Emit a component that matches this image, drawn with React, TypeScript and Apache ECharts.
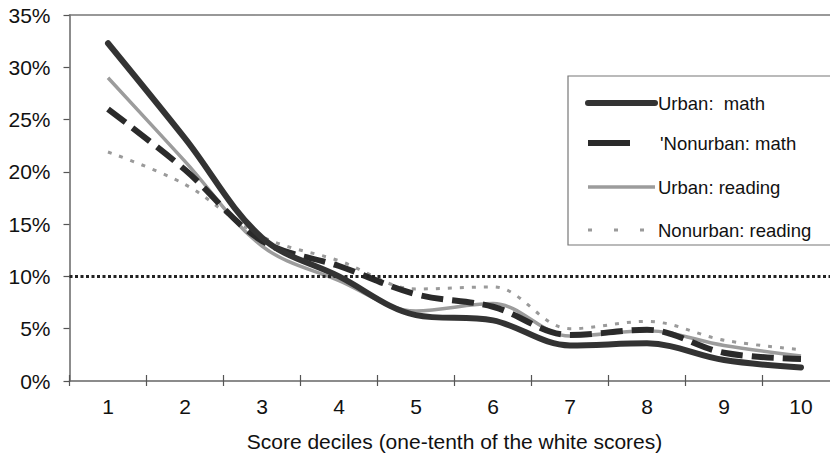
import React, { useEffect, useRef } from "react";
import * as echarts from "echarts";

const categories = ["1", "2", "3", "4", "5", "6", "7", "8", "9", "10"];
const urbanMath = [32.3, 23.2, 13.7, 10.0, 6.3, 5.8, 3.4, 3.6, 2.0, 1.3];
const nonurbanMath = [26.0, 20.2, 13.4, 11.0, 8.3, 7.1, 4.4, 4.9, 2.7, 2.1];
const urbanReading = [29.0, 21.0, 12.9, 9.6, 6.7, 7.4, 4.3, 4.8, 3.4, 2.4];
const nonurbanReading = [21.9, 18.8, 13.8, 11.5, 8.8, 9.0, 5.0, 5.7, 3.9, 3.0];
const yTicks = [0, 5, 10, 15, 20, 25, 30, 35];
const thresholdValue = 10;
const legendNames = ["Urban:  math", "'Nonurban: math", "Urban: reading", "Nonurban: reading"];
const xTitle = "Score deciles (one-tenth of the white scores)";

const FONT = "'Liberation Sans', Arial, Helvetica, sans-serif";
const W = 850;

export default function App() {
  const ref = useRef<HTMLDivElement>(null);
  useEffect(() => {
    if (!ref.current) return;
    const chart = echarts.init(ref.current, undefined, { renderer: "svg" });
    const lx = 588;
    const ly = [103, 143, 187, 230];
    const tx = 658;
    const option: any = {
      animation: false,
      textStyle: { fontFamily: FONT },
      grid: {
        left: 69.5,
        right: W - 839.5,
        top: 15,
        bottom: 68,
        show: false,
      },
      xAxis: [
        {
          type: "category",
          data: categories,
          boundaryGap: true,
          axisLine: { show: true, lineStyle: { color: "#666", width: 1.5 } },
          axisTick: { show: true, length: 5, lineStyle: { color: "#555", width: 1.2 } },
          axisLabel: { fontSize: 21, color: "#111", margin: 15, fontFamily: FONT },
          name: xTitle,
          nameLocation: "middle",
          nameGap: 50,
          nameTextStyle: { fontSize: 21, color: "#111", fontFamily: FONT },
        },
        {
          type: "category",
          data: categories,
          position: "bottom",
          boundaryGap: true,
          axisLine: { show: false },
          axisTick: { show: true, inside: true, length: 6, lineStyle: { color: "#555", width: 1.2 } },
          axisLabel: { show: false },
        },
        {
          type: "category",
          data: categories,
          position: "top",
          boundaryGap: true,
          axisLine: { show: true, lineStyle: { color: "#777", width: 1.5 } },
          axisTick: { show: false },
          axisLabel: { show: false },
        },
      ],
      yAxis: {
        type: "value",
        min: yTicks[0],
        max: yTicks[yTicks.length - 1],
        interval: 5,
        axisLine: { show: true, lineStyle: { color: "#666", width: 1.5 } },
        axisTick: { show: true, length: 6, lineStyle: { color: "#555", width: 1.2 } },
        splitLine: { show: false },
        axisLabel: {
          fontSize: 21,
          color: "#111",
          margin: 19,
          fontFamily: FONT,
          formatter: (v: number) => v + "%",
        },
      },
      series: [
        {
          name: legendNames[3],
          type: "line",
          data: nonurbanReading,
          smooth: 0.35,
          symbol: "none",
          lineStyle: { color: "#9a9a9a", width: 3, type: [4, 8] },
          z: 2,
        },
        {
          name: legendNames[2],
          type: "line",
          data: urbanReading,
          smooth: 0.35,
          symbol: "none",
          lineStyle: { color: "#9c9c9c", width: 3.5 },
          z: 3,
        },
        {
          name: legendNames[1],
          type: "line",
          data: nonurbanMath,
          smooth: 0.35,
          symbol: "none",
          lineStyle: { color: "#2a2a2a", width: 6, type: [22, 9] },
          z: 4,
        },
        {
          name: legendNames[0],
          type: "line",
          data: urbanMath,
          smooth: 0.35,
          symbol: "none",
          lineStyle: { color: "#333", width: 6, cap: "round" },
          z: 5,
          markLine: {
            silent: true,
            symbol: "none",
            label: { show: false },
            lineStyle: { color: "#222", width: 3, type: [3, 2.5] },
            data: [{ yAxis: thresholdValue }],
          },
        },
      ],
      graphic: [
        {
          type: "rect",
          shape: { x: 568, y: 76, width: 270, height: 169 },
          style: { fill: "#fff", stroke: "#777", lineWidth: 1.2 },
          z: 10,
        },
        {
          type: "line",
          shape: { x1: lx, y1: ly[0], x2: lx + 67, y2: ly[0] },
          style: { stroke: "#333", lineWidth: 6, lineCap: "round" },
          z: 11,
        },
        {
          type: "line",
          shape: { x1: lx, y1: ly[1], x2: lx + 42, y2: ly[1] },
          style: { stroke: "#2a2a2a", lineWidth: 6 },
          z: 11,
        },
        {
          type: "line",
          shape: { x1: lx, y1: ly[2], x2: lx + 67, y2: ly[2] },
          style: { stroke: "#9c9c9c", lineWidth: 3.5 },
          z: 11,
        },
        {
          type: "line",
          shape: { x1: lx, y1: ly[3], x2: lx + 58, y2: ly[3] },
          style: { stroke: "#9a9a9a", lineWidth: 3, lineDash: [4, 22] },
          z: 11,
        },
        ...legendNames.map((n, i) => ({
          type: "text",
          x: i === 1 ? tx + 2 : tx,
          y: ly[i],
          style: {
            text: n,
            fontSize: 18.5,
            fontFamily: FONT,
            fill: "#111",
            textVerticalAlign: "middle",
            verticalAlign: "middle",
          },
          z: 11,
        })),
      ],
    };
    chart.setOption(option);
    return () => chart.dispose();
  }, []);
  return (
    <div style={{ position: "absolute", left: 0, top: 0, width: 830, height: 457, overflow: "hidden" }}>
      <div ref={ref} style={{ width: W, height: 457 }} />
    </div>
  );
}
